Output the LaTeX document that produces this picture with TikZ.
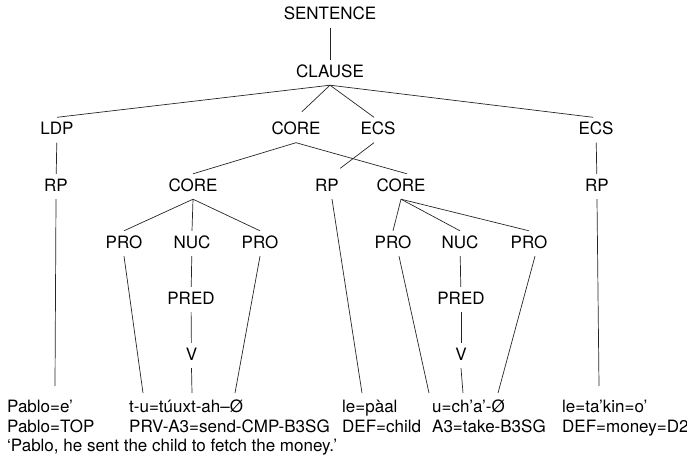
\documentclass[tikz,border=0pt]{standalone}
\usepackage{fontspec}
\setmainfont{TeX Gyre Heros}

\begin{document}
\begin{tikzpicture}[x=1pt,y=-1pt,
  cat/.style={inner xsep=2pt,inner ysep=5pt,text height=12pt,text depth=3pt,font=\fontsize{17}{20}\selectfont},
  gloss/.style={anchor=base west,inner sep=0pt,font=\fontsize{17}{20}\selectfont},
  branch/.style={draw,line width=0.7pt,black!85}]
\useasboundingbox (0,0) rectangle (687,460);
\node[cat] (sentence) at (330,15.5) {SENTENCE};
\node[cat] (clause) at (330,72.5) {CLAUSE};
\node[cat] (ldp) at (57,130) {LDP};
\node[cat] (core) at (296,130) {CORE};
\node[cat] (ecs) at (378,130) {ECS};
\node[cat] (ecsR) at (596,130) {ECS};
\node[cat] (rpL) at (56,186.5) {RP};
\node[cat] (coreL) at (193,186.5) {CORE};
\node[cat] (rpM) at (327,186.5) {RP};
\node[cat] (coreR) at (401,186.5) {CORE};
\node[cat] (rpR) at (597,186.5) {RP};
\node[cat] (proA) at (124,243.5) {PRO};
\node[cat] (nucA) at (192,243.5) {NUC};
\node[cat] (proB) at (260,243.5) {PRO};
\node[cat] (proC) at (393,243.5) {PRO};
\node[cat] (nucB) at (460,243.5) {NUC};
\node[cat] (proD) at (529,243.5) {PRO};
\node[cat] (predA) at (191,299.5) {PRED};
\node[cat] (predB) at (461,299.5) {PRED};
\node[cat] (vA) at (191.5,355.5) {V};
\node[cat] (vB) at (461,355.5) {V};
% words and glosses
\node[gloss] (wPablo) at (7,412) {Pablo=e’};
\node[gloss] (gPablo) at (7,432) {Pablo=TOP};
\node[gloss] (wVerb) at (129,412) {t-u=túuxt-ah–Ø};
\node[gloss] (gVerb) at (129,432) {PRV-A3=send-CMP-B3SG};
\node[gloss] (wChild) at (342,412) {le=pàal};
\node[gloss] (gChild) at (342,432) {DEF=child};
\node[gloss] (wTake) at (432,412) {u=ch’a’-Ø};
\node[gloss] (gTake) at (432,432) {A3=take-B3SG};
\node[gloss] (wMoney) at (562,412) {le=ta’kin=o’};
\node[gloss] (gMoney) at (562,432) {DEF=money=D2};
\node[gloss] (trans) at (7,451) {‘Pablo, he sent the child to fetch the money.’};
\coordinate (endRpL) at (55,386);
\coordinate (endProA) at (143,393);
\coordinate (endVA) at (192,393);
\coordinate (endProB) at (235,393);
\coordinate (endRpM) at (362,393);
\coordinate (endProC) at (429,393);
\coordinate (endVB) at (463,393);
\coordinate (endProD) at (498,393);
\coordinate (endRpR) at (599,386);
% branches
\path[branch](sentence) edge (clause);
\path[branch](clause.south) edge (ldp.north);
\path[branch,shorten >=8pt](clause.south) edge (core.north);
\path[branch](clause.south) edge ([xshift=-4pt]ecs.north);
\path[branch](clause.south) edge ([xshift=-3pt]ecsR.north);
\path[branch](ldp) edge (rpL);
\path[branch](ecsR) edge (rpR);
\path[branch](core.south) edge (coreL.north);
\path[branch](core.south) edge ([xshift=6pt]coreR.north);
\path[branch,shorten >=9pt]([xshift=-4pt]ecs.south) edge ([xshift=6pt]rpM.north);
\path[branch](coreL.south) edge (proA.north);
\path[branch](coreL.south) edge (nucA.north);
\path[branch](coreL.south) edge (proB.north);
\path[branch](coreR.south) edge (proC.north);
\path[branch](coreR.south) edge (nucB.north);
\path[branch](coreR.south) edge (proD.north);
\path[branch](nucA) edge (predA);
\path[branch](predA) edge (vA);
\path[branch](nucB) edge (predB);
\path[branch](predB) edge (vB);
\path[branch](rpL.south) edge (endRpL);
\path[branch](proA.south) edge (endProA);
\path[branch](vA.south) edge (endVA);
\path[branch](proB.south) edge (endProB);
\path[branch]([xshift=5pt]rpM.south) edge (endRpM);
\path[branch]([xshift=6pt]proC.south) edge (endProC);
\path[branch](vB.south) edge (endVB);
\path[branch]([xshift=6pt]proD.south) edge (endProD);
\path[branch](rpR.south) edge (endRpR);
\end{tikzpicture}
\end{document}
